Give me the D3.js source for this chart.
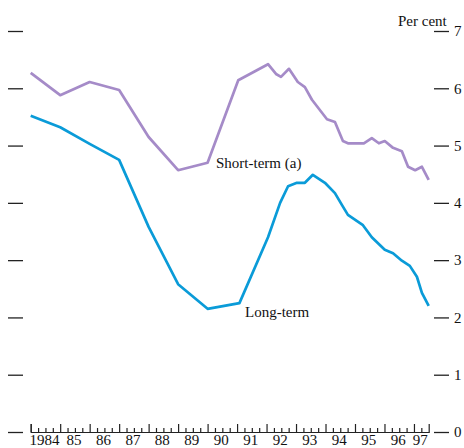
<!DOCTYPE html>
<html>
<head>
<meta charset="utf-8">
<script src="https://cdn.jsdelivr.net/npm/d3@7"></script>
<style>
  html, body { margin: 0; padding: 0; background: #fff; }
  svg text { font-family: "Liberation Serif", "DejaVu Serif", serif; fill: #111; }
</style>
</head>
<body>
<svg width="464" height="448"></svg>
<script>
// short-term rate (a), per cent, decimal year
var shortDates = [1984, 1985, 1986, 1987, 1988, 1989, 1990, 1991.04, 1992.05, 1992.32, 1992.49, 1992.76,
    1993.06, 1993.3, 1993.54, 1994.05, 1994.32, 1994.59, 1994.76, 1995.3, 1995.57, 1995.81,
    1996.01, 1996.29, 1996.59, 1996.8, 1997.04, 1997.27, 1997.5];
var shortValues = [6.27, 5.88, 6.11, 5.97, 5.15, 4.57, 4.70, 6.14, 6.42, 6.25, 6.20, 6.34,
    6.11, 6.02, 5.80, 5.46, 5.41, 5.08, 5.04, 5.04, 5.13, 5.04,
    5.08, 4.96, 4.90, 4.63, 4.57, 4.63, 4.40];

// long-term rate, per cent
var longDates = [1984, 1985, 1986, 1987, 1988, 1989, 1990, 1991.08, 1992.05, 1992.46, 1992.73,
    1993.03, 1993.3, 1993.57, 1993.98, 1994.32, 1994.56, 1994.76, 1995.27, 1995.57,
    1996.01, 1996.29, 1996.59, 1996.86, 1997.1, 1997.27, 1997.5];
var longValues = [5.52, 5.32, 5.03, 4.75, 3.58, 2.58, 2.15, 2.25, 3.40, 4.00, 4.29,
    4.35, 4.35, 4.49, 4.35, 4.17, 3.96, 3.79, 3.61, 3.40,
    3.18, 3.12, 2.99, 2.90, 2.71, 2.43, 2.20];

var years = d3.range(1984, 1998);
var yearLabels = ['1984', '85', '86', '87', '88', '89', '90', '91', '92', '93', '94', '95', '96', '97'];
var yTicks = [0, 1, 2, 3, 4, 5, 6, 7];

var svg = d3.select('svg');

var x = d3.scaleLinear().domain([1984, 1997.5]).range([30.7, 428.7]);
var y = d3.scaleLinear().domain([0, 7]).range([432, 31]);

// quarter ticks (small) and year ticks (taller), pointing up from the baseline
var quarters = d3.range(1984, 1997.5, 0.25).filter(function(q) { return q % 1 !== 0; });
svg.append('g')
    .attr('transform', 'translate(0,432)')
    .call(d3.axisBottom(x).tickValues(quarters).tickSize(-4).tickSizeOuter(-8).tickFormat(''))
    .call(function(g) {
        g.select('.domain').attr('stroke', '#222').attr('stroke-width', 1.2);
        g.selectAll('.tick line').attr('stroke', '#222').attr('stroke-width', 1.2);
    });
svg.append('g')
    .attr('transform', 'translate(0,432)')
    .call(d3.axisBottom(x).tickValues(years).tickSize(-8).tickFormat(''))
    .call(function(g) {
        g.select('.domain').remove();
        g.selectAll('.tick line').attr('stroke', '#222').attr('stroke-width', 1.2);
    });

svg.append('g').selectAll('text')
    .data(years)
    .enter().append('text')
    .attr('x', function(d) { return x(Math.min(d + 0.5, 1997.25)) - 1; })
    .attr('y', 445)
    .attr('text-anchor', 'middle')
    .attr('font-size', 15)
    .text(function(d, i) { return yearLabels[i]; });

// left dashes
svg.append('g')
    .attr('transform', 'translate(23,0)')
    .call(d3.axisLeft(y).tickValues(yTicks).tickSize(15).tickFormat(''))
    .call(function(g) {
        g.select('.domain').remove();
        g.selectAll('.tick line').attr('stroke', '#222').attr('stroke-width', 1.3);
    });

// right dashes with labels
svg.append('g')
    .attr('transform', 'translate(434,0)')
    .call(d3.axisRight(y).tickValues(yTicks).tickSize(15).tickPadding(5).tickFormat(d3.format('d')))
    .call(function(g) {
        g.select('.domain').remove();
        g.selectAll('.tick line').attr('stroke', '#222').attr('stroke-width', 1.3);
        g.selectAll('.tick text').attr('font-size', 15).attr('font-family', '"Liberation Serif", serif').attr('fill', '#111');
    });

var line = d3.line()
    .x(function(d) { return x(d[0]); })
    .y(function(d) { return y(d[1]); });

svg.append('path')
    .datum(d3.zip(shortDates, shortValues))
    .attr('fill', 'none')
    .attr('stroke', '#a58bc8')
    .attr('stroke-width', 2.7)
    .attr('stroke-linejoin', 'round')
    .attr('d', line);

svg.append('path')
    .datum(d3.zip(longDates, longValues))
    .attr('fill', 'none')
    .attr('stroke', '#0a9bd8')
    .attr('stroke-width', 2.7)
    .attr('stroke-linejoin', 'round')
    .attr('d', line);

svg.append('text').attr('x', 398).attr('y', 26).attr('font-size', 15).text('Per cent');
svg.append('text').attr('x', 216).attr('y', 168).attr('font-size', 15).text('Short-term (a)');
svg.append('text').attr('x', 245).attr('y', 317).attr('font-size', 15).text('Long-term');
</script>
</body>
</html>
